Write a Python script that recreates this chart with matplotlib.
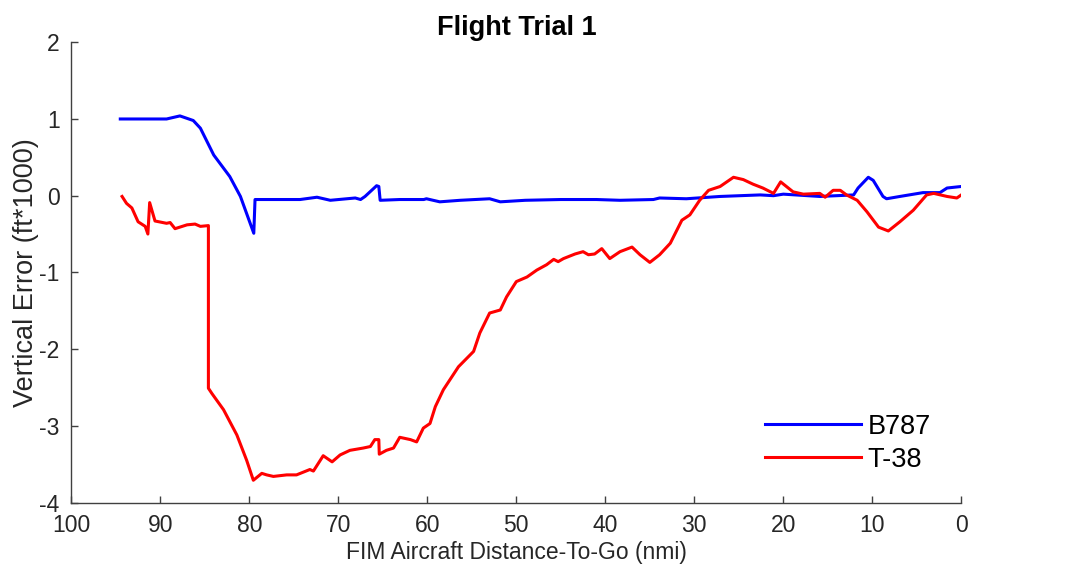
import numpy as np
import matplotlib
matplotlib.use('Agg')
import matplotlib.pyplot as plt

# =============================================================================
# DATA
# =============================================================================

b787_dtg = [94.5, 89.3, 87.8, 86.3, 85.5, 84.0, 82.2, 81.0, 79.5, 79.36,
            74.3, 72.4, 70.9, 68.1, 67.5, 67.0, 65.7, 65.45, 65.3, 63.1,
            60.4, 60.1, 58.6, 56.3, 53.0, 51.8, 49.0, 45.0, 41.0, 38.35,
            34.6, 33.9, 30.9, 27.1, 22.6, 21.1, 20.0, 15.9, 12.1, 11.6,
            10.45, 9.9, 8.8, 8.4, 6.9, 4.3, 2.4, 1.6, 0.0]
b787_err = [1.00, 1.00, 1.04, 0.98, 0.88, 0.53, 0.25, -0.01, -0.49, -0.05,
            -0.05, -0.02, -0.06, -0.03, -0.05, -0.01, 0.13, 0.12, -0.06, -0.05,
            -0.05, -0.04, -0.08, -0.06, -0.04, -0.08, -0.06, -0.05, -0.05, -0.06,
            -0.05, -0.03, -0.04, -0.01, 0.01, 0.00, 0.02, -0.01, 0.01, 0.10,
            0.24, 0.20, -0.01, -0.04, -0.01, 0.04, 0.04, 0.10, 0.12]

t38_dtg = [94.3, 93.8, 93.2, 92.5, 91.7, 91.4, 91.2, 90.6, 89.3, 88.9,
           88.35, 87.0, 86.1, 85.5, 84.6, 84.6, 84.2, 82.9, 81.4, 80.3,
           79.55, 78.6, 78.05, 77.3, 75.8, 74.7, 73.2, 72.8, 71.7, 70.7,
           69.8, 68.7, 67.2, 66.4, 65.9, 65.45, 65.4, 64.6, 63.8, 63.1,
           61.9, 61.2, 60.45, 59.7, 59.1, 58.2, 56.5, 54.8, 54.1, 53.0,
           51.8, 51.1, 50.0, 48.8, 47.7, 46.6, 45.8, 45.3, 44.7, 43.4,
           42.5, 41.9, 41.2, 40.4, 39.5, 38.35, 37.0, 36.1, 35.0, 33.9,
           32.7, 31.4, 30.5, 29.4, 28.4, 27.1, 25.6, 24.5, 23.4, 22.3,
           21.1, 20.3, 18.9, 17.75, 15.9, 15.3, 14.4, 13.6, 12.9, 11.7,
           10.6, 9.3, 8.2, 6.9, 5.4, 3.9, 3.1, 1.6, 0.5, 0.0]
t38_err = [-0.01, -0.10, -0.16, -0.34, -0.40, -0.50, -0.09, -0.33, -0.36, -0.35,
           -0.43, -0.38, -0.37, -0.40, -0.39, -2.51, -2.58, -2.79, -3.12, -3.45,
           -3.71, -3.62, -3.64, -3.66, -3.64, -3.64, -3.57, -3.59, -3.39, -3.47,
           -3.38, -3.32, -3.29, -3.27, -3.18, -3.18, -3.37, -3.32, -3.29, -3.15,
           -3.18, -3.21, -3.03, -2.97, -2.75, -2.53, -2.23, -2.03, -1.79, -1.53,
           -1.49, -1.32, -1.12, -1.06, -0.97, -0.90, -0.83, -0.86, -0.82, -0.76,
           -0.73, -0.77, -0.76, -0.69, -0.82, -0.73, -0.67, -0.77, -0.87, -0.77,
           -0.62, -0.32, -0.25, -0.06, 0.07, 0.12, 0.24, 0.21, 0.15, 0.10,
           0.03, 0.18, 0.05, 0.02, 0.03, -0.02, 0.07, 0.07, 0.01, -0.06,
           -0.21, -0.41, -0.46, -0.34, -0.19, 0.01, 0.03, -0.01, -0.03, 0.01]

x_ticks = [100, 90, 80, 70, 60, 50, 40, 30, 20, 10, 0]
y_ticks = [2, 1, 0, -1, -2, -3, -4]

# =============================================================================
# PLOT
# =============================================================================

plt.rcParams['font.family'] = ['Liberation Sans', 'DejaVu Sans']
plt.rcParams['axes.unicode_minus'] = False

axcol = '#404040'
txtcol = '#262626'
fig = plt.figure(figsize=(10.68, 5.76), dpi=100)
ax = fig.add_axes([0.0668, 0.1276, 0.8333, 0.799])

ax.plot(b787_dtg, b787_err, color='#0000ff', lw=2.2, label='B787')
ax.plot(t38_dtg, t38_err, color='#ff0000', lw=2.2, label='T-38')

ax.set_xlim(100, 0)
ax.set_ylim(-4, 2)
ax.set_xticks(x_ticks)
ax.set_yticks(y_ticks)
ax.spines['top'].set_visible(False)
ax.spines['right'].set_visible(False)
for s in ['left', 'bottom']:
    ax.spines[s].set_color(axcol)
    ax.spines[s].set_linewidth(1.0)
ax.tick_params(direction='in', length=5, width=1.0, color=axcol,
               labelcolor=txtcol, labelsize=16.5, pad=8.5)

ax.set_title('Flight Trial 1', fontsize=19.5, fontweight='bold', pad=5)
ax.set_xlabel('FIM Aircraft Distance-To-Go (nmi)', fontsize=16.5,
              color=txtcol, labelpad=3)
ax.set_ylabel('Vertical Error (ft*1000)', fontsize=19.5,
              color=txtcol, labelpad=0)

ax.legend(loc='lower right', bbox_to_anchor=(0.993, 0.012), frameon=False,
          fontsize=19.5, handlelength=3.55, handletextpad=0.22,
          labelspacing=0.25)

fig.savefig('out.png', dpi=100)
